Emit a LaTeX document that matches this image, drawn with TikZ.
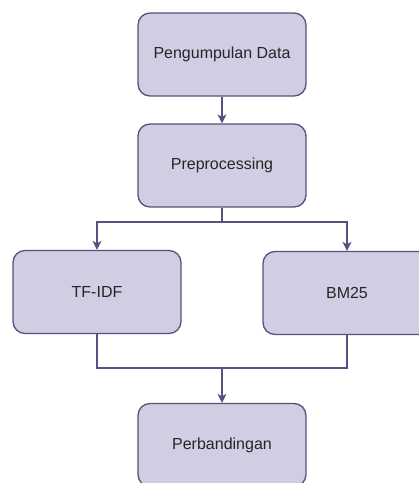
\documentclass[tikz,border=0pt]{standalone}
\usepackage{fontspec}
\setmainfont{Liberation Sans}
\usetikzlibrary{arrows.meta,positioning,calc}
\definecolor{isi}{HTML}{D0CEE2}
\definecolor{garis}{HTML}{56517E}

\begin{document}
\begin{tikzpicture}[x=1pt,y=-1pt,
  font=\fontsize{16pt}{19pt}\selectfont,
  tahap/.style={draw=garis,line width=1.3pt,fill=isi,rounded corners=12pt,
    minimum width=168pt,minimum height=83pt,align=center,text=black!85},
  alur/.style={draw=garis,line width=1.3pt,-{Stealth[length=9pt,width=9pt,inset=2.5pt]}},
  sambung/.style={draw=garis,line width=1.3pt}]
  \useasboundingbox (0,0) rectangle (419,483);
  \node[tahap] (kumpul) at (222,54.5) {Pengumpulan Data};
  \node[tahap] (prepro) at (222,165.5) {Preprocessing};
  \node[tahap] (tfidf) at (97,292) {TF-IDF};
  \node[tahap] (bm) at (347,293) {BM25};
  \node[tahap] (banding) at (222,445) {Perbandingan};
  \coordinate (cabang) at (222,222);
  \coordinate (gabung) at (222,368);

  \draw[alur] (kumpul) -- (prepro);
  \draw[sambung] (prepro.south) -- (cabang);
  \draw[alur] (cabang) -| (tfidf.north);
  \draw[alur] (cabang) -| (bm.north);
  \draw[sambung] (tfidf.south) |- (gabung) -| (bm.south);
  \draw[alur] (gabung) -- (banding);
\end{tikzpicture}
\end{document}
